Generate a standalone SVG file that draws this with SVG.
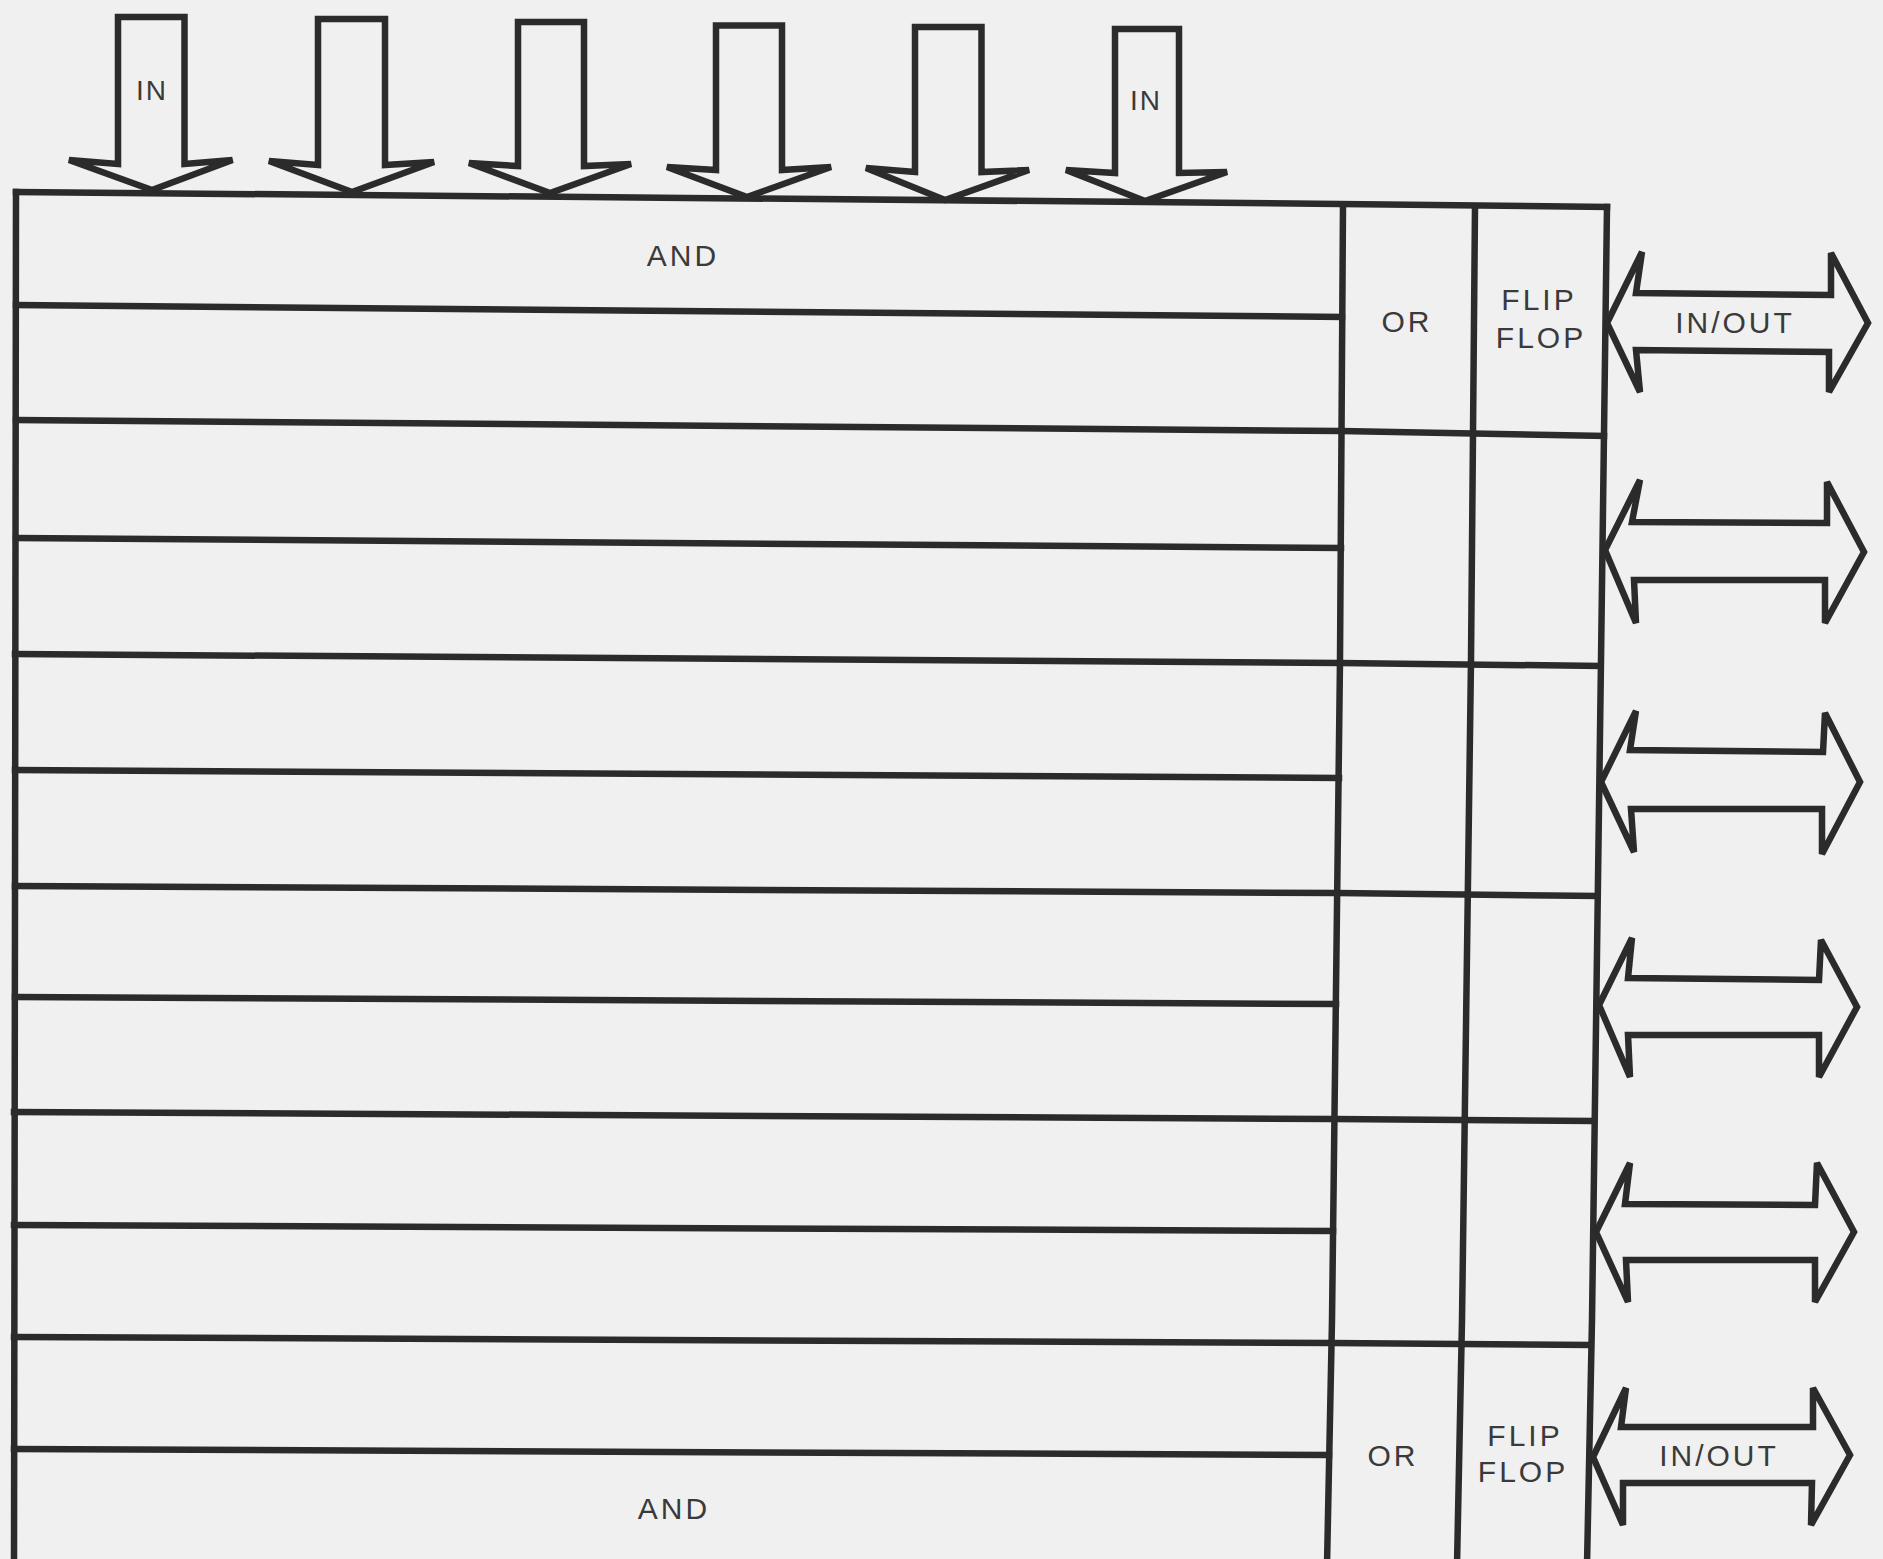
<svg xmlns="http://www.w3.org/2000/svg" width="1883" height="1559" viewBox="0 0 1883 1559">
<style>
.ln{fill:none;stroke:#2b2b2b;stroke-width:6.5;stroke-linecap:square;stroke-linejoin:miter}
.ar{fill:#f0f0f0;stroke:#2b2b2b;stroke-width:6.5;stroke-linejoin:miter;stroke-miterlimit:2.5}
.t{font-family:"Liberation Sans",Arial,sans-serif;font-size:30px;fill:#3a3a3a;letter-spacing:3px;text-anchor:middle}
.ti{font-family:"Liberation Sans",Arial,sans-serif;font-size:28px;fill:#3a3a3a;letter-spacing:2px;text-anchor:middle}
</style>
<rect width="1883" height="1559" fill="#f0f0f0"/>
<g id="connectors">
  <g id="in-arrows">
    <path id="in1" class="ar" d="M118,17 L184.5,17 L184.5,164 L232.5,160 L152,190 L69,160 L118,164 Z"/>
    <path id="in2" class="ar" d="M318,19 L385,19 L385,165 L434,162 L352,192 L269,161 L318,165 Z"/>
    <path id="in3" class="ar" d="M518,22 L584,22 L584,166 L631,164 L550,193 L469,163 L518,166 Z"/>
    <path id="in4" class="ar" d="M716,25.5 L782,25.5 L782,170 L831,167 L747,197 L667,167 L716,170 Z"/>
    <path id="in5" class="ar" d="M915,27 L981.5,27 L981.5,172 L1029,170 L945,200 L866,168 L915,172 Z"/>
    <path id="in6" class="ar" d="M1115,29 L1179,29 L1179,173 L1227,172 L1145,201 L1066,170 L1115,173 Z"/>
  </g>
  <g id="io-arrows">
    <path id="io1" class="ar" d="M1607,323 L1642,252 L1636,293 L1831,295 L1831,253 L1868,323 L1829,392 L1829,352 L1636,350 L1640,392 Z"/>
    <path id="io2" class="ar" d="M1605,550 L1640,480 L1632,522 L1827,523 L1827,482 L1864,552 L1825,623 L1825,580 L1634,580 L1636,623 Z"/>
    <path id="io3" class="ar" d="M1601,782 L1636,711 L1630,750 L1823,752 L1825,713 L1860,782 L1822,854 L1822,809 L1631,809 L1634,852 Z"/>
    <path id="io4" class="ar" d="M1599,1005 L1632,938 L1628,978 L1819,980 L1821,940 L1857,1007 L1819,1077 L1819,1035 L1628,1035 L1630,1077 Z"/>
    <path id="io5" class="ar" d="M1596,1232 L1630,1163 L1625,1204 L1815,1205 L1817,1163 L1854,1232 L1815,1302 L1815,1260 L1626,1260 L1628,1302 Z"/>
    <path id="io6" class="ar" d="M1593,1457 L1626,1388 L1621,1427 L1813,1427 L1813,1388 L1850,1455 L1811,1525 L1812,1483 L1623,1483 L1623,1525 Z"/>
  </g>
</g>
<g id="and-array">
  <polyline class="ln" points="16,192 1145,202 1607,207"/>
  <polyline class="ln" points="16,192 15,900 14,1565"/>
  <line class="ln" x1="16" y1="305" x2="1342" y2="317"/>
  <line class="ln" x1="16" y1="538" x2="1341" y2="548"/>
  <line class="ln" x1="15" y1="770" x2="1339" y2="778"/>
  <line class="ln" x1="15" y1="997" x2="1336" y2="1004"/>
  <line class="ln" x1="14" y1="1225" x2="1333" y2="1231"/>
  <line class="ln" x1="14" y1="1449" x2="1329" y2="1455"/>
</g>
<g id="group-lines">
  <polyline class="ln" points="16,420 1341,431 1604,436"/>
  <polyline class="ln" points="15,654 1340,663 1600,666"/>
  <polyline class="ln" points="15,886 1337,893 1597,896"/>
  <polyline class="ln" points="14,1112 1334,1119 1593,1121"/>
  <polyline class="ln" points="14,1337 1331,1343 1590,1345"/>
</g>
<g id="or-column">
  <polyline class="ln" points="1343,205 1340,660 1332,1320 1327,1565"/>
</g>
<g id="ff-column">
  <polyline class="ln" points="1475,207 1471,660 1462,1320 1457,1565"/>
  <polyline class="ln" points="1607,207 1601,660 1592,1320 1587,1565"/>
</g>
<g id="labels">
  <text class="ti" x="152" y="100">IN</text>
  <text class="ti" x="1146" y="110">IN</text>
  <text class="t" x="683" y="266">AND</text>
  <text class="t" x="1407" y="332">OR</text>
  <text class="t" x="1539" y="310">FLIP</text>
  <text class="t" x="1541" y="348">FLOP</text>
  <text class="t" x="1735" y="333">IN/OUT</text>
  <text class="t" x="1393" y="1466">OR</text>
  <text class="t" x="1525" y="1446">FLIP</text>
  <text class="t" x="1523" y="1482">FLOP</text>
  <text class="t" x="1719" y="1466">IN/OUT</text>
  <text class="t" x="674" y="1519">AND</text>
</g>
</svg>
